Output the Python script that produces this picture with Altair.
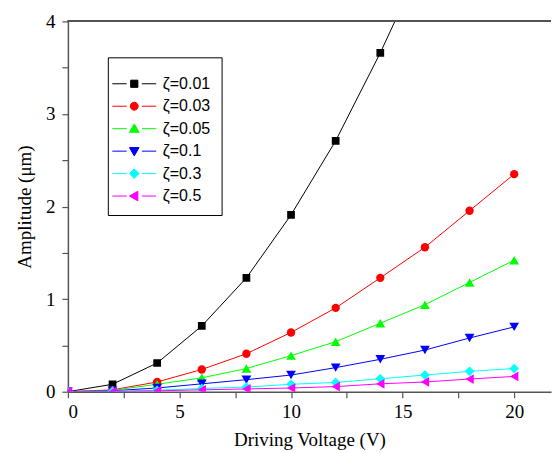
import math
import altair as alt
import pandas as pd

# ---------------- data ----------------
voltage = [0, 2, 4, 6, 8, 10, 12, 14, 16, 18, 20]
zeta_labels = ["ζ=0.01", "ζ=0.03", "ζ=0.05", "ζ=0.1", "ζ=0.3", "ζ=0.5"]
amp_z001 = [0, 0.08, 0.31, 0.71, 1.23, 1.91, 2.71, 3.66, 4.70, 5.90, 7.30]
amp_z003 = [0, 0.02, 0.105, 0.24, 0.41, 0.64, 0.905, 1.23, 1.56, 1.955, 2.35]
amp_z005 = [0, 0.015, 0.08, 0.15, 0.25, 0.39, 0.54, 0.74, 0.94, 1.18, 1.42]
amp_z01 = [0, 0.01, 0.04, 0.085, 0.13, 0.18, 0.26, 0.35, 0.45, 0.58, 0.70]
amp_z03 = [0, 0.005, 0.015, 0.035, 0.05, 0.08, 0.10, 0.14, 0.18, 0.22, 0.25]
amp_z05 = [0, 0.002, 0.01, 0.02, 0.03, 0.04, 0.055, 0.085, 0.105, 0.137, 0.165]
x_tick_values = [0, 2.5, 5, 7.5, 10, 12.5, 15, 17.5, 20]
y_tick_values = [0, 0.5, 1, 1.5, 2, 2.5, 3, 3.5, 4]
x_domain = [0, 21.65]
y_domain = [0, 4]

# ---------------- styles ----------------
colors = ["#000000", "#ff0000", "#00ff00", "#0000ff", "#00ffff", "#ff00ff"]
plot_shapes = ["square", "circle", "triangle-up", "triangle-down", "diamond", "triangle-left"]
marker_sizes = [60, 70, 95, 95, 95, 95]


def nested(poly):
    # outline drawn several times, shrinking, so a 1px stroke looks filled
    out = ""
    for k in (1.0, 0.78, 0.56, 0.34, 0.12):
        pts = [f"{x * k:.3f},{y * k:.3f}" for x, y in poly]
        out += "M" + "L".join(pts) + "Z"
    return out


line_part = "M-2.75,0L-0.95,0M0.95,0L2.75,0"
marker_polys = [
    [(-0.45, -0.45), (0.45, -0.45), (0.45, 0.45), (-0.45, 0.45)],
    [(0.5 * math.cos(math.radians(a)), 0.5 * math.sin(math.radians(a))) for a in range(0, 360, 30)],
    [(0, -0.6), (0.6, 0.45), (-0.6, 0.45)],
    [(0, 0.6), (0.6, -0.45), (-0.6, -0.45)],
    [(0, -0.6), (0.6, 0), (0, 0.6), (-0.6, 0)],
    [(-0.6, 0), (0.45, -0.6), (0.45, 0.6)],
]
legend_paths = [line_part + nested(p) for p in marker_polys]

series = [amp_z001, amp_z003, amp_z005, amp_z01, amp_z03, amp_z05]
rows = []
for lab, vals in zip(zeta_labels, series):
    for v, a in zip(voltage, vals):
        rows.append({"V": v, "A": a, "series": lab})
df = pd.DataFrame(rows)

serif = "Liberation Serif"
sans = "Liberation Sans"
axis_gray = "#555555"

x_enc = alt.X(
    "V:Q",
    scale=alt.Scale(domain=x_domain, nice=False),
    axis=alt.Axis(
        title="Driving Voltage (V)",
        values=x_tick_values,
        labelExpr="datum.value % 5 === 0 ? '' + datum.value : ''",
        grid=False,
        tickSize=6,
        labelPadding=5,
        titlePadding=9,
    ),
)
y_enc = alt.Y(
    "A:Q",
    scale=alt.Scale(domain=y_domain, nice=False),
    axis=alt.Axis(
        title="Amplitude (μm)",
        values=y_tick_values,
        labelExpr="datum.value % 1 === 0 ? '' + datum.value : ''",
        grid=False,
        tickSize=6,
        labelPadding=7,
        titlePadding=11,
    ),
)

leg = alt.Legend(
    title=" ",
    titleFontSize=7,
    titlePadding=0,
    orient="none",
    legendX=40,
    legendY=36,
    padding=11,
    strokeColor="black",
    fillColor="white",
    symbolSize=256,
    symbolStrokeWidth=1,
    symbolOffset=7,
    labelOffset=20,
    labelFont=sans,
    labelFontSize=16,
    labelColor="black",
    rowPadding=5.5,
    symbolOpacity=1,
)

color_scale = alt.Scale(domain=zeta_labels, range=colors)

lines = alt.Chart(df).mark_line(strokeWidth=1, clip=True).encode(
    x=x_enc,
    y=y_enc,
    color=alt.Color("series:N", scale=color_scale, legend=leg),
    shape=alt.Shape("series:N", scale=alt.Scale(domain=zeta_labels, range=legend_paths), legend=leg),
    detail="series:N",
)

point_layers = []
for lab, col, shp, sz in zip(zeta_labels, colors, plot_shapes, marker_sizes):
    point_layers.append(
        alt.Chart(df)
        .transform_filter(alt.datum.series == lab)
        .mark_point(filled=True, opacity=1, clip=True, shape=shp, size=sz, color=col)
        .encode(x=x_enc, y=y_enc)
    )

top_border = alt.Chart(df).mark_rule(color=axis_gray, strokeWidth=1).encode(
    y=alt.datum(y_domain[1])
)

chart = (
    alt.layer(lines, *point_layers, top_border)
    .properties(width=484, height=371, padding={"left": 7, "top": 4, "right": 0, "bottom": 0}, background="white")
    .configure_view(stroke=None)
    .configure_axis(
        labelFont=serif,
        labelFontSize=19,
        labelColor="black",
        titleFont=serif,
        titleFontSize=19,
        titleFontWeight="normal",
        titleColor="black",
        domainColor=axis_gray,
        domainWidth=1.5,
        tickColor=axis_gray,
        tickWidth=1.2,
    )
)

chart.save("out.html", embed_options={"renderer": "svg", "actions": False})
